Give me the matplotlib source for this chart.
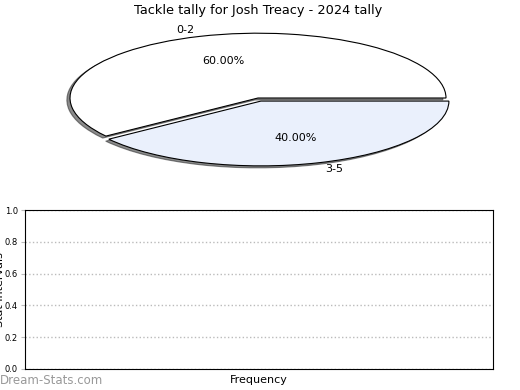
import matplotlib
matplotlib.use("Agg")
import matplotlib.pyplot as plt

labels = ["0-2", "3-5"]
values = [60, 40]
colors = ["#ffffff", "#eaf0fc"]
explode = [0, 0.05]
yticks = [0.0, 0.2, 0.4, 0.6, 0.8, 1.0]

fig = plt.figure(figsize=(5.2, 3.9), dpi=100)
W, H = 520, 390

ax1 = fig.add_axes([23 / W, 1 - 179 / H, 470 / W, 162 / H])
wedges, texts, autotexts = ax1.pie(values, labels=labels, colors=colors, explode=explode,
                                   autopct="%1.2f%%",
                                   shadow=dict(ox=-0.012, oy=-0.022, shade=0.9),
                                   startangle=0,
                                   wedgeprops=dict(edgecolor="black", linewidth=0.8),
                                   textprops=dict(fontsize=8))
ax1.set_aspect("auto")
ax1.set_xlim(-1.25, 1.25)
ax1.set_ylim(-1.25, 1.25)
ax1.set_title("Tackle tally for Josh Treacy - 2024 tally", fontsize=9.3, pad=1.5)

ax2 = fig.add_axes([25 / W, 1 - 369 / H, 468 / W, 159 / H])
ax2.set_ylim(0, 1)
ax2.set_xlim(0, 1)
ax2.set_yticks(yticks)
ax2.set_yticklabels([f"{v:.1f}" for v in yticks])
ax2.set_xticks([])
ax2.tick_params(axis="y", labelsize=6, length=3, pad=2, color="#bbbbbb")
ax2.yaxis.grid(True, linestyle=":", color="#bbbbbb", linewidth=1)
ax2.set_xlabel("Frequency", fontsize=8, labelpad=4)
ax2.set_ylabel("Stat Intervals", fontsize=8)
ax2.yaxis.set_label_coords(-20 / 468, 0.5)

fig.text(0, 3 / H, "Dream-Stats.com", fontsize=8.5, color="#999999",
         ha="left", va="bottom")

fig.savefig("out.png", dpi=100)
